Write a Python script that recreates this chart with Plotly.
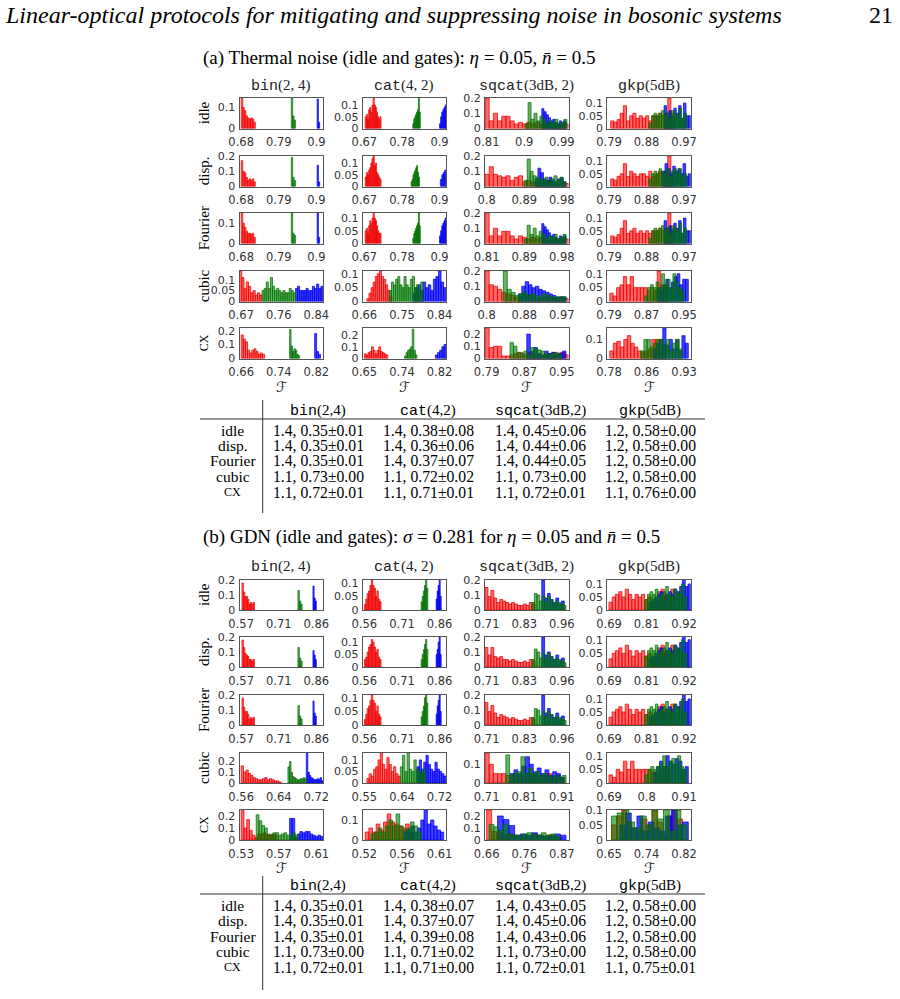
import plotly.graph_objects as go

FIG_W, FIG_H = 900, 999

COL_NAMES = ["bin", "cat", "sqcat", "gkp"]
COL_ARGS = ["(2, 4)", "(4, 2)", "(3dB, 2)", "(5dB)"]
TAB_ARGS = ["(2,4)", "(4,2)", "(3dB,2)", "(5dB)"]
ROW_NAMES = ["idle", "disp.", "Fourier", "cubic", "CX"]

# ---------------- x tick labels (fidelity: min, middle, max) ----------------
a_xlabels = [
    [["0.68", "0.79", "0.9"], ["0.67", "0.78", "0.9"], ["0.81", "0.9", "0.99"], ["0.79", "0.88", "0.97"]],
    [["0.68", "0.79", "0.9"], ["0.67", "0.78", "0.9"], ["0.8", "0.89", "0.98"], ["0.79", "0.88", "0.97"]],
    [["0.68", "0.79", "0.9"], ["0.67", "0.78", "0.9"], ["0.81", "0.89", "0.98"], ["0.79", "0.88", "0.97"]],
    [["0.67", "0.76", "0.84"], ["0.66", "0.75", "0.84"], ["0.8", "0.88", "0.97"], ["0.79", "0.87", "0.95"]],
    [["0.66", "0.74", "0.82"], ["0.65", "0.74", "0.82"], ["0.79", "0.87", "0.95"], ["0.78", "0.86", "0.93"]],
]
b_xlabels = [
    [["0.57", "0.71", "0.86"], ["0.56", "0.71", "0.86"], ["0.71", "0.83", "0.96"], ["0.69", "0.81", "0.92"]],
    [["0.57", "0.71", "0.86"], ["0.56", "0.71", "0.86"], ["0.71", "0.83", "0.96"], ["0.69", "0.81", "0.92"]],
    [["0.57", "0.71", "0.86"], ["0.56", "0.71", "0.86"], ["0.71", "0.83", "0.96"], ["0.69", "0.81", "0.92"]],
    [["0.56", "0.64", "0.72"], ["0.55", "0.64", "0.72"], ["0.71", "0.81", "0.91"], ["0.69", "0.8", "0.91"]],
    [["0.53", "0.57", "0.61"], ["0.52", "0.56", "0.61"], ["0.66", "0.76", "0.87"], ["0.65", "0.74", "0.82"]],
]

# ---------------- y axis maxima and ticks ----------------
a_ymax = [[0.145, 0.13, 0.2, 0.12], [0.2, 0.13, 0.2, 0.12], [0.15, 0.12, 0.2, 0.12],
          [0.14, 0.11, 0.2, 0.11], [0.22, 0.26, 0.25, 0.16]]
a_yticks = [[[0, 0.1], [0, 0.05, 0.1], [0, 0.1, 0.2], [0, 0.05, 0.1]],
            [[0, 0.1, 0.2], [0, 0.05, 0.1], [0, 0.1, 0.2], [0, 0.05, 0.1]],
            [[0, 0.1], [0, 0.05, 0.1], [0, 0.1, 0.2], [0, 0.05, 0.1]],
            [[0, 0.05, 0.1], [0, 0.05, 0.1], [0, 0.1, 0.2], [0, 0.05, 0.1]],
            [[0, 0.1, 0.2], [0, 0.1, 0.2], [0, 0.1, 0.2], [0, 0.1]]]
b_ymax = [[0.2, 0.11, 0.2, 0.115], [0.2, 0.12, 0.2, 0.11], [0.2, 0.11, 0.2, 0.115],
          [0.28, 0.13, 0.16, 0.11], [0.25, 0.15, 0.25, 0.1]]
b_yticks = [[[0, 0.1, 0.2], [0, 0.05, 0.1], [0, 0.1, 0.2], [0, 0.05, 0.1]],
            [[0, 0.1, 0.2], [0, 0.05, 0.1], [0, 0.1, 0.2], [0, 0.05, 0.1]],
            [[0, 0.1, 0.2], [0, 0.05, 0.1], [0, 0.1, 0.2], [0, 0.05, 0.1]],
            [[0, 0.1, 0.2], [0, 0.05, 0.1], [0, 0.1], [0, 0.05, 0.1]],
            [[0, 0.1, 0.2], [0, 0.1], [0, 0.1, 0.2], [0, 0.05, 0.1]]]

# ---------------- histograms: (bin-range start, end on the fidelity axis scaled 0..1, bar heights) ----
# thermal noise (a)
a_idle_r = [(0.02, 0.19, [0.145, 0.10, 0.085, 0.06, 0.05, 0.045, 0.05, 0.045, 0.03]),
            (0.03, 0.22, [0.05, 0.06, 0.04, 0.08, 0.09, 0.07, 0.10, 0.13, 0.10, 0.09, 0.07, 0.05, 0.04, 0.05]),
            (0.0, 1.0, [0.20, 0.05, 0.10, 0.05, 0.08, 0.08, 0.05, 0.03, 0.04, 0.03, 0.04, 0.03, 0.04, 0.03, 0.03, 0.04, 0.03, 0.03, 0.02, 0.03]),
            (0.04, 0.80, [0.03, 0.025, 0.035, 0.06, 0.09, 0.03, 0.05, 0.06, 0.04, 0.05, 0.04, 0.05, 0.03, 0.05, 0.05, 0.06, 0.05, 0.06, 0.12, 0.06])]
a_idle_g = [(0.62, 0.67, [0.145, 0.06, 0.04]),
            (0.60, 0.69, [0.02, 0.04, 0.05, 0.06, 0.07, 0.08, 0.13, 0.07]),
            (0.48, 0.98, [0.03, 0.17, 0.06, 0.10, 0.05, 0.08, 0.06, 0.03, 0.05, 0.04, 0.06, 0.03, 0.04, 0.06]),
            (0.50, 0.95, [0.02, 0.05, 0.06, 0.05, 0.06, 0.07, 0.05, 0.06, 0.04, 0.07, 0.06, 0.05, 0.08, 0.04, 0.06])]
a_idle_b = [(0.93, 0.96, [0.14, 0.03]),
            (0.92, 1.0, [0.02, 0.05, 0.07, 0.08, 0.09, 0.10]),
            (0.68, 0.97, [0.13, 0.11, 0.09, 0.07, 0.05, 0.06, 0.04, 0.03, 0.05, 0.04, 0.05]),
            (0.68, 1.0, [0.09, 0.06, 0.07, 0.05, 0.08, 0.06, 0.09, 0.04, 0.10, 0.05, 0.05])]

a_disp_r = [(0.02, 0.19, [0.17, 0.10, 0.09, 0.06, 0.04, 0.05, 0.04, 0.05, 0.03]),
            (0.03, 0.22, [0.04, 0.06, 0.05, 0.07, 0.08, 0.10, 0.12, 0.13, 0.09, 0.10, 0.06, 0.05, 0.04, 0.03]),
            (0.0, 1.0, [0.08, 0.13, 0.08, 0.07, 0.06, 0.07, 0.04, 0.06, 0.07, 0.03, 0.04, 0.03, 0.03, 0.02, 0.03, 0.04, 0.03, 0.02, 0.03, 0.02]),
            (0.04, 0.80, [0.03, 0.025, 0.04, 0.05, 0.09, 0.04, 0.06, 0.05, 0.04, 0.05, 0.05, 0.04, 0.06, 0.04, 0.05, 0.06, 0.05, 0.06, 0.12, 0.05])]
a_disp_g = [(0.62, 0.67, [0.19, 0.06, 0.04]),
            (0.58, 0.68, [0.02, 0.03, 0.05, 0.06, 0.07, 0.08, 0.09, 0.06, 0.04]),
            (0.47, 0.97, [0.04, 0.18, 0.10, 0.07, 0.06, 0.05, 0.04, 0.06, 0.03, 0.05, 0.07, 0.04, 0.06, 0.03]),
            (0.50, 0.95, [0.03, 0.05, 0.06, 0.05, 0.07, 0.06, 0.05, 0.07, 0.04, 0.06, 0.07, 0.05, 0.07, 0.04, 0.05])]
a_disp_b = [(0.93, 0.96, [0.14, 0.03]),
            (0.93, 1.0, [0.03, 0.05, 0.06, 0.07]),
            (0.60, 0.97, [0.05, 0.12, 0.09, 0.05, 0.04, 0.06, 0.04, 0.03, 0.05, 0.06, 0.03]),
            (0.66, 1.0, [0.06, 0.09, 0.07, 0.05, 0.08, 0.06, 0.07, 0.05, 0.09, 0.04, 0.05])]

a_four_r = [(0.02, 0.19, [0.15, 0.10, 0.08, 0.06, 0.05, 0.05, 0.045, 0.05, 0.03]),
            (0.03, 0.22, [0.05, 0.06, 0.04, 0.07, 0.09, 0.08, 0.10, 0.12, 0.10, 0.09, 0.07, 0.05, 0.04, 0.04]),
            (0.0, 1.0, [0.20, 0.05, 0.10, 0.05, 0.08, 0.08, 0.05, 0.03, 0.05, 0.04, 0.03, 0.04, 0.03, 0.04, 0.03, 0.03, 0.04, 0.03, 0.02, 0.03]),
            (0.04, 0.80, [0.03, 0.025, 0.035, 0.06, 0.09, 0.04, 0.05, 0.06, 0.04, 0.05, 0.04, 0.05, 0.04, 0.05, 0.05, 0.06, 0.05, 0.06, 0.12, 0.06])]
a_four_g = [(0.62, 0.67, [0.15, 0.05, 0.04]),
            (0.60, 0.69, [0.02, 0.04, 0.05, 0.06, 0.07, 0.08, 0.12, 0.07]),
            (0.47, 0.97, [0.03, 0.12, 0.06, 0.10, 0.05, 0.08, 0.06, 0.03, 0.05, 0.04, 0.06, 0.03, 0.04, 0.06]),
            (0.50, 0.95, [0.02, 0.05, 0.06, 0.05, 0.06, 0.07, 0.05, 0.06, 0.04, 0.07, 0.06, 0.05, 0.08, 0.04, 0.06])]
a_four_b = [(0.93, 0.96, [0.15, 0.03]),
            (0.92, 1.0, [0.03, 0.05, 0.07, 0.08, 0.09, 0.10]),
            (0.68, 0.97, [0.13, 0.11, 0.09, 0.07, 0.05, 0.06, 0.04, 0.03, 0.05, 0.04, 0.05]),
            (0.68, 1.0, [0.09, 0.06, 0.07, 0.05, 0.08, 0.06, 0.09, 0.04, 0.10, 0.05, 0.05])]

a_cub_r = [(0.0, 0.27, [0.14, 0.11, 0.06, 0.09, 0.07, 0.04, 0.05, 0.03, 0.04, 0.03]),
           (0.05, 0.35, [0.01, 0.03, 0.05, 0.07, 0.09, 0.10, 0.11, 0.09, 0.08, 0.06, 0.04, 0.02]),
           (0.0, 1.0, [0.20, 0.11, 0.10, 0.08, 0.06, 0.05, 0.04, 0.03, 0.03, 0.05, 0.04, 0.03, 0.02, 0.02, 0.03, 0.03, 0.02, 0.02, 0.03, 0.02]),
           (0.03, 0.72, [0.03, 0.02, 0.05, 0.06, 0.09, 0.06, 0.09, 0.05, 0.05, 0.05, 0.05, 0.04, 0.05, 0.04, 0.11, 0.06, 0.05])]
a_cub_g = [(0.27, 0.67, [0.05, 0.06, 0.09, 0.06, 0.11, 0.07, 0.05, 0.06, 0.05, 0.04, 0.05, 0.04, 0.04, 0.06, 0.05, 0.04]),
           (0.32, 0.72, [0.04, 0.07, 0.06, 0.08, 0.09, 0.06, 0.05, 0.09, 0.06, 0.05, 0.08, 0.09, 0.05, 0.06, 0.04, 0.07]),
           (0.22, 0.97, [0.20, 0.08, 0.06, 0.04, 0.05, 0.06, 0.04, 0.05, 0.04, 0.03, 0.05, 0.04, 0.03, 0.03, 0.03, 0.03]),
           (0.45, 0.92, [0.02, 0.05, 0.06, 0.05, 0.07, 0.05, 0.10, 0.06, 0.08, 0.05, 0.10, 0.07, 0.05, 0.04])]
a_cub_b = [(0.67, 1.0, [0.06, 0.07, 0.05, 0.05, 0.05, 0.06, 0.05, 0.05, 0.07, 0.06, 0.08, 0.06, 0.07]),
           (0.60, 1.0, [0.03, 0.05, 0.06, 0.04, 0.07, 0.05, 0.06, 0.04, 0.08, 0.09, 0.11, 0.07, 0.05]),
           (0.40, 0.97, [0.05, 0.10, 0.13, 0.11, 0.09, 0.10, 0.08, 0.07, 0.06, 0.05, 0.04, 0.03, 0.03, 0.03]),
           (0.60, 0.97, [0.05, 0.04, 0.06, 0.08, 0.05, 0.07, 0.09, 0.10, 0.06, 0.08, 0.08])]

a_cx_r = [(0.02, 0.30, [0.17, 0.14, 0.12, 0.06, 0.04, 0.06, 0.07, 0.05, 0.03, 0.04, 0.03]),
          (0.02, 0.30, [0.04, 0.03, 0.05, 0.06, 0.10, 0.07, 0.04, 0.07, 0.10, 0.06, 0.05, 0.04, 0.03]),
          (0.0, 1.0, [0.25, 0.09, 0.10, 0.10, 0.02, 0.02, 0.03, 0.04, 0.05, 0.03, 0.05, 0.04, 0.03, 0.02, 0.03, 0.04, 0.05, 0.04, 0.05, 0.03]),
          (0.03, 0.70, [0.04, 0.08, 0.09, 0.06, 0.10, 0.12, 0.08, 0.06, 0.04, 0.03, 0.04, 0.05, 0.10, 0.10, 0.04, 0.07])]
a_cx_g = [(0.60, 0.72, [0.21, 0.09, 0.05, 0.07, 0.06, 0.03, 0.02]),
          (0.50, 0.65, [0.02, 0.05, 0.07, 0.08, 0.10, 0.25, 0.07, 0.03]),
          (0.30, 0.92, [0.13, 0.10, 0.05, 0.04, 0.06, 0.03, 0.09, 0.08, 0.07, 0.06, 0.04, 0.03, 0.04, 0.05, 0.03]),
          (0.40, 0.90, [0.04, 0.10, 0.10, 0.06, 0.08, 0.10, 0.10, 0.07, 0.10, 0.04, 0.08, 0.10, 0.05])]
a_cx_b = [(0.90, 0.97, [0.18, 0.05, 0.03]),
          (0.87, 1.0, [0.03, 0.05, 0.07, 0.10, 0.12]),
          (0.50, 0.97, [0.20, 0.06, 0.09, 0.04, 0.03, 0.06, 0.04, 0.05, 0.03, 0.04, 0.06]),
          (0.55, 0.97, [0.05, 0.08, 0.10, 0.16, 0.07, 0.10, 0.05, 0.10, 0.04, 0.12, 0.08])]

# GDN (b)
b_idle_r = [(0.03, 0.18, [0.18, 0.12, 0.09, 0.09, 0.07, 0.04, 0.05, 0.04, 0.05]),
            (0.02, 0.22, [0.02, 0.04, 0.06, 0.07, 0.09, 0.11, 0.09, 0.08, 0.05, 0.07, 0.04, 0.03]),
            (0.0, 0.60, [0.15, 0.09, 0.13, 0.08, 0.05, 0.07, 0.06, 0.05, 0.04, 0.05, 0.04, 0.03, 0.03, 0.04, 0.03, 0.05, 0.04]),
            (0.02, 0.80, [0.03, 0.05, 0.06, 0.07, 0.05, 0.08, 0.06, 0.04, 0.06, 0.05, 0.06, 0.04, 0.05, 0.03, 0.04, 0.07, 0.08, 0.06, 0.05, 0.08])]
b_idle_g = [(0.70, 0.75, [0.13, 0.06, 0.04]),
            (0.70, 0.78, [0.03, 0.05, 0.07, 0.09, 0.11, 0.08]),
            (0.56, 0.97, [0.05, 0.11, 0.10, 0.06, 0.09, 0.05, 0.09, 0.07, 0.04, 0.06, 0.05, 0.04, 0.03]),
            (0.45, 0.95, [0.04, 0.06, 0.07, 0.06, 0.08, 0.05, 0.06, 0.07, 0.09, 0.06, 0.05, 0.08, 0.07, 0.06, 0.10, 0.05])]
b_idle_b = [(0.88, 0.92, [0.16, 0.08, 0.06]),
            (0.88, 0.94, [0.04, 0.07, 0.09, 0.11, 0.05]),
            (0.68, 0.95, [0.20, 0.08, 0.11, 0.07, 0.05, 0.08, 0.04, 0.06]),
            (0.50, 1.0, [0.03, 0.04, 0.05, 0.06, 0.07, 0.05, 0.06, 0.07, 0.06, 0.08, 0.07, 0.09, 0.12, 0.09, 0.10])]

b_disp_r = [(0.03, 0.18, [0.18, 0.13, 0.09, 0.08, 0.07, 0.05, 0.05, 0.04, 0.05]),
            (0.02, 0.22, [0.03, 0.04, 0.06, 0.08, 0.09, 0.11, 0.10, 0.08, 0.06, 0.07, 0.04, 0.03]),
            (0.0, 0.60, [0.13, 0.08, 0.13, 0.07, 0.06, 0.07, 0.05, 0.05, 0.04, 0.05, 0.04, 0.03, 0.03, 0.04, 0.03, 0.05, 0.04]),
            (0.02, 0.80, [0.03, 0.05, 0.06, 0.07, 0.05, 0.08, 0.06, 0.04, 0.06, 0.05, 0.06, 0.04, 0.05, 0.03, 0.04, 0.07, 0.08, 0.06, 0.05, 0.08])]
b_disp_g = [(0.70, 0.75, [0.13, 0.06, 0.04]),
            (0.70, 0.78, [0.03, 0.05, 0.07, 0.09, 0.11, 0.07]),
            (0.56, 0.97, [0.05, 0.12, 0.10, 0.06, 0.09, 0.05, 0.09, 0.07, 0.04, 0.06, 0.05, 0.04, 0.03]),
            (0.45, 0.95, [0.04, 0.06, 0.07, 0.06, 0.08, 0.05, 0.06, 0.07, 0.09, 0.06, 0.05, 0.08, 0.07, 0.06, 0.10, 0.05])]
b_disp_b = [(0.88, 0.92, [0.11, 0.08, 0.05]),
            (0.88, 0.94, [0.05, 0.07, 0.10, 0.12, 0.05]),
            (0.68, 0.95, [0.20, 0.08, 0.10, 0.07, 0.05, 0.08, 0.04, 0.06]),
            (0.50, 1.0, [0.03, 0.04, 0.05, 0.06, 0.07, 0.05, 0.06, 0.07, 0.06, 0.08, 0.07, 0.09, 0.12, 0.09, 0.10])]

b_four_r = [(0.03, 0.18, [0.18, 0.12, 0.09, 0.09, 0.07, 0.04, 0.05, 0.04, 0.05]),
            (0.02, 0.22, [0.02, 0.04, 0.06, 0.07, 0.09, 0.11, 0.09, 0.08, 0.05, 0.07, 0.04, 0.03]),
            (0.0, 0.60, [0.15, 0.09, 0.13, 0.08, 0.05, 0.07, 0.06, 0.05, 0.04, 0.05, 0.04, 0.03, 0.03, 0.04, 0.03, 0.05, 0.04]),
            (0.02, 0.80, [0.03, 0.05, 0.06, 0.07, 0.05, 0.08, 0.06, 0.04, 0.06, 0.05, 0.06, 0.04, 0.05, 0.03, 0.04, 0.07, 0.08, 0.06, 0.05, 0.08])]
b_four_g = [(0.70, 0.75, [0.13, 0.06, 0.04]),
            (0.70, 0.78, [0.03, 0.05, 0.07, 0.10, 0.11, 0.08]),
            (0.56, 0.97, [0.05, 0.11, 0.10, 0.06, 0.09, 0.05, 0.09, 0.07, 0.04, 0.06, 0.05, 0.04, 0.03]),
            (0.45, 0.95, [0.04, 0.06, 0.07, 0.06, 0.08, 0.05, 0.06, 0.07, 0.09, 0.06, 0.05, 0.08, 0.07, 0.06, 0.10, 0.05])]
b_four_b = [(0.88, 0.92, [0.16, 0.08, 0.06]),
            (0.88, 0.94, [0.04, 0.07, 0.09, 0.11, 0.05]),
            (0.68, 0.95, [0.20, 0.08, 0.11, 0.07, 0.05, 0.08, 0.04, 0.06]),
            (0.50, 1.0, [0.03, 0.04, 0.05, 0.06, 0.07, 0.05, 0.06, 0.07, 0.06, 0.08, 0.07, 0.09, 0.12, 0.09, 0.10])]

b_cub_r = [(0.02, 0.50, [0.16, 0.10, 0.12, 0.09, 0.07, 0.05, 0.04, 0.03, 0.03, 0.04, 0.05, 0.03, 0.04, 0.03, 0.02, 0.02, 0.01]),
           (0.05, 0.45, [0.02, 0.04, 0.03, 0.06, 0.07, 0.10, 0.13, 0.08, 0.06, 0.11, 0.08, 0.05, 0.07, 0.04, 0.03]),
           (0.0, 0.95, [0.16, 0.10, 0.05, 0.05, 0.05, 0.04, 0.03, 0.04, 0.04, 0.03, 0.05, 0.04, 0.04, 0.03, 0.04, 0.05, 0.03, 0.04, 0.03]),
           (0.02, 0.75, [0.03, 0.02, 0.05, 0.04, 0.08, 0.05, 0.08, 0.05, 0.05, 0.05, 0.05, 0.05, 0.04, 0.04, 0.05, 0.06, 0.05])]
b_cub_g = [(0.58, 0.80, [0.15, 0.20, 0.10, 0.06, 0.05, 0.04, 0.03, 0.03, 0.04, 0.04, 0.05, 0.04]),
           (0.45, 0.75, [0.07, 0.12, 0.05, 0.13, 0.06, 0.05, 0.10, 0.06, 0.05, 0.04, 0.06]),
           (0.25, 0.97, [0.15, 0.04, 0.05, 0.06, 0.14, 0.05, 0.08, 0.05, 0.06, 0.04, 0.05, 0.04, 0.03, 0.04, 0.03, 0.04]),
           (0.45, 0.95, [0.03, 0.05, 0.06, 0.05, 0.06, 0.07, 0.10, 0.06, 0.08, 0.09, 0.07, 0.10, 0.06, 0.05])]
b_cub_b = [(0.80, 1.0, [0.30, 0.10, 0.07, 0.05, 0.04, 0.03, 0.03, 0.04, 0.03, 0.05, 0.02]),
           (0.65, 1.0, [0.07, 0.10, 0.06, 0.09, 0.12, 0.08, 0.06, 0.05, 0.09, 0.06, 0.05, 0.04, 0.03]),
           (0.30, 0.95, [0.05, 0.07, 0.05, 0.09, 0.14, 0.10, 0.06, 0.08, 0.05, 0.07, 0.04, 0.06, 0.05, 0.03]),
           (0.55, 0.97, [0.04, 0.06, 0.08, 0.06, 0.10, 0.08, 0.07, 0.09, 0.08, 0.05, 0.06])]

b_cx_r = [(0.02, 0.45, [0.25, 0.10, 0.17, 0.08, 0.04, 0.02, 0.05, 0.05, 0.06, 0.04, 0.04, 0.05, 0.04]),
          (0.03, 0.60, [0.04, 0.06, 0.04, 0.08, 0.05, 0.09, 0.13, 0.09, 0.08, 0.07, 0.06, 0.08, 0.04]),
          (0.02, 0.92, [0.25, 0.07, 0.06, 0.04, 0.05, 0.04, 0.03, 0.04, 0.03, 0.05, 0.04, 0.03, 0.04, 0.03, 0.02]),
          (0.05, 0.90, [0.05, 0.08, 0.10, 0.06, 0.04, 0.03, 0.07, 0.05, 0.10, 0.06, 0.02, 0.08, 0.10, 0.07])]
b_cx_g = [(0.20, 0.70, [0.21, 0.16, 0.12, 0.10, 0.05, 0.04, 0.06, 0.06, 0.04, 0.05, 0.06, 0.04, 0.04, 0.06, 0.04]),
          (0.10, 0.70, [0.03, 0.04, 0.06, 0.04, 0.07, 0.10, 0.07, 0.13, 0.07, 0.05, 0.06, 0.09, 0.07, 0.04]),
          (0.05, 0.90, [0.13, 0.11, 0.08, 0.13, 0.05, 0.04, 0.04, 0.05, 0.06, 0.05, 0.04, 0.06, 0.04, 0.05, 0.03]),
          (0.05, 0.95, [0.08, 0.09, 0.10, 0.06, 0.04, 0.08, 0.05, 0.10, 0.07, 0.10, 0.03, 0.10, 0.05])]
b_cx_b = [(0.60, 1.0, [0.18, 0.18, 0.02, 0.05, 0.07, 0.06, 0.07, 0.07, 0.05, 0.04, 0.03, 0.04, 0.03]),
          (0.50, 0.97, [0.04, 0.05, 0.07, 0.04, 0.06, 0.10, 0.15, 0.08, 0.10, 0.07, 0.05, 0.04]),
          (0.15, 0.97, [0.20, 0.17, 0.12, 0.04, 0.05, 0.04, 0.06, 0.04, 0.03, 0.04, 0.05, 0.04]),
          (0.15, 0.97, [0.05, 0.09, 0.04, 0.08, 0.03, 0.06, 0.04, 0.03, 0.08, 0.10, 0.05, 0.06])]

A_RED = [a_idle_r, a_disp_r, a_four_r, a_cub_r, a_cx_r]
A_GREEN = [a_idle_g, a_disp_g, a_four_g, a_cub_g, a_cx_g]
A_BLUE = [a_idle_b, a_disp_b, a_four_b, a_cub_b, a_cx_b]
B_RED = [b_idle_r, b_disp_r, b_four_r, b_cub_r, b_cx_r]
B_GREEN = [b_idle_g, b_disp_g, b_four_g, b_cub_g, b_cx_g]
B_BLUE = [b_idle_b, b_disp_b, b_four_b, b_cub_b, b_cx_b]

# ---------------- tables ----------------
a_table = [["1.4, 0.35±0.01", "1.4, 0.38±0.08", "1.4, 0.45±0.06", "1.2, 0.58±0.00"],
           ["1.4, 0.35±0.01", "1.4, 0.36±0.06", "1.4, 0.44±0.06", "1.2, 0.58±0.00"],
           ["1.4, 0.35±0.01", "1.4, 0.37±0.07", "1.4, 0.44±0.05", "1.2, 0.58±0.00"],
           ["1.1, 0.73±0.00", "1.1, 0.72±0.02", "1.1, 0.73±0.00", "1.2, 0.58±0.00"],
           ["1.1, 0.72±0.01", "1.1, 0.71±0.01", "1.1, 0.72±0.01", "1.1, 0.76±0.00"]]
b_table = [["1.4, 0.35±0.01", "1.4, 0.38±0.07", "1.4, 0.43±0.05", "1.2, 0.58±0.00"],
           ["1.4, 0.35±0.01", "1.4, 0.37±0.07", "1.4, 0.45±0.06", "1.2, 0.58±0.00"],
           ["1.4, 0.35±0.01", "1.4, 0.39±0.08", "1.4, 0.43±0.06", "1.2, 0.58±0.00"],
           ["1.1, 0.73±0.00", "1.1, 0.71±0.02", "1.1, 0.73±0.00", "1.2, 0.58±0.00"],
           ["1.1, 0.72±0.01", "1.1, 0.71±0.00", "1.1, 0.72±0.01", "1.1, 0.75±0.01"]]

# ================= layout geometry (pixels) =================
COL_LEFT = [239.5, 362.7, 485.0, 607.3]
COL_W = 83.5
SECTIONS = [
    dict(tops=[98, 156, 213, 271, 328], h=30.5, title_y=86, header_y=58,
         header="(a) Thermal noise (idle and gates): <i>η</i> = 0.05, <i>n̄</i> = 0.5",
         xl=a_xlabels, ymax=a_ymax, yt=a_yticks, R=A_RED, G=A_GREEN, B=A_BLUE,
         table=a_table, t_head=411, t_rule=419, t_rows=[430, 445.5, 461, 476.5, 492], t_vline=(400, 513)),
    dict(tops=[580, 637, 695, 753, 810], h=30, title_y=567, header_y=537,
         header="(b) GDN (idle and gates): <i>σ</i> = 0.281 for <i>η</i> = 0.05 and <i>n̄</i> = 0.5",
         xl=b_xlabels, ymax=b_ymax, yt=b_yticks, R=B_RED, G=B_GREEN, B=B_BLUE,
         table=b_table, t_head=886, t_rule=894, t_rows=[905, 920.5, 936, 951.5, 967], t_vline=(876, 990)),
]
XT_FRAC = [0.02, 0.47, 0.92]
TAB_X = [318, 428, 540, 650]
TAB_ROWLAB_X = 232.7

SERIF = "Liberation Serif, Times New Roman, serif"
MONO = "Liberation Mono"
SANS = "DejaVu Sans"
TICK_COLOR = "#333333"
FILL = {"r": "rgba(255,0,0,0.6)", "g": "rgba(0,128,0,0.6)", "b": "rgba(0,0,255,0.75)"}
EDGE = {"r": "rgba(235,0,0,0.9)", "g": "rgba(0,110,0,0.9)", "b": "rgba(0,0,235,0.9)"}


def fx(p):
    return p / FIG_W


def fy(p):
    return 1 - p / FIG_H


fig = go.Figure()
layout = {}
annotations = []
shapes = []


def add_hist(k, spec, key):
    x0, x1, hs = spec
    n = len(hs)
    w = (x1 - x0) / n
    xs = [x0 + (i + 0.5) * w for i in range(n)]
    fig.add_trace(go.Bar(
        x=xs, y=hs, width=[w] * n,
        marker=dict(color=FILL[key], line=dict(color=EDGE[key], width=0.8)),
        xaxis="x" if k == 1 else f"x{k}", yaxis="y" if k == 1 else f"y{k}",
        hoverinfo="skip", showlegend=False))


k = 0
for s, sec in enumerate(SECTIONS):
    for r in range(5):
        top = sec["tops"][r]
        bot = top + sec["h"]
        for c in range(4):
            k += 1
            add_hist(k, sec["R"][r][c], "r")
            add_hist(k, sec["B"][r][c], "b")
            add_hist(k, sec["G"][r][c], "g")
            xa = "xaxis" if k == 1 else f"xaxis{k}"
            ya = "yaxis" if k == 1 else f"yaxis{k}"
            left = COL_LEFT[c]
            common = dict(showline=True, mirror=True, linecolor="#555555", linewidth=1,
                          showgrid=False, zeroline=False, ticks="", fixedrange=True, automargin=False)
            layout[xa] = dict(common, domain=[fx(left), fx(left + COL_W)], range=[0, 1],
                              anchor="y" if k == 1 else f"y{k}",
                              tickmode="array", tickvals=XT_FRAC, ticktext=sec["xl"][r][c],
                              ticklabelstandoff=3,
                              tickfont=dict(family=SANS, size=11.5, color=TICK_COLOR))
            yt = sec["yt"][r][c]
            layout[ya] = dict(common, domain=[fy(bot), fy(top)], range=[0, sec["ymax"][r][c]],
                              anchor="x" if k == 1 else f"x{k}",
                              tickmode="array", tickvals=yt, ticktext=[f"{v:g}" for v in yt],
                              ticklabelstandoff=1,
                              tickfont=dict(family=SANS, size=11, color=TICK_COLOR))
        # row label
        annotations.append(dict(x=fx(204), y=fy(top + sec["h"] / 2), xref="paper", yref="paper",
                                text=ROW_NAMES[r], textangle=-90, showarrow=False,
                                xanchor="center", yanchor="middle",
                                font=dict(family=SERIF, size=12 if ROW_NAMES[r] == "CX" else 15, color="black")))
    # column titles and F labels
    for c in range(4):
        cx = COL_LEFT[c] + COL_W / 2
        annotations.append(dict(x=fx(cx), y=fy(sec["title_y"]), xref="paper", yref="paper",
                                text=f'<span style="font-family:{MONO}">{COL_NAMES[c]}</span>{COL_ARGS[c]}',
                                showarrow=False, xanchor="center", yanchor="middle",
                                font=dict(family=SERIF, size=15, color="#222")))
        annotations.append(dict(x=fx(cx), y=fy(sec["tops"][4] + sec["h"] + 28), xref="paper", yref="paper",
                                text="ℱ", showarrow=False, xanchor="center", yanchor="middle",
                                font=dict(family="DejaVu Serif, DejaVu Sans", size=14, color="#222")))
    # section header
    annotations.append(dict(x=fx(201), y=fy(sec["header_y"]), xref="paper", yref="paper",
                            text=sec["header"], showarrow=False, xanchor="left", yanchor="middle",
                            font=dict(family=SERIF, size=19, color="black")))
    # table
    for c in range(4):
        annotations.append(dict(x=fx(TAB_X[c]), y=fy(sec["t_head"]), xref="paper", yref="paper",
                                text=f'<span style="font-family:{MONO}">{COL_NAMES[c]}</span>{TAB_ARGS[c]}',
                                showarrow=False, xanchor="center", yanchor="middle",
                                font=dict(family=SERIF, size=15, color="black")))
    for r in range(5):
        annotations.append(dict(x=fx(TAB_ROWLAB_X), y=fy(sec["t_rows"][r]), xref="paper", yref="paper",
                                text=ROW_NAMES[r], showarrow=False, xanchor="center", yanchor="middle",
                                font=dict(family=SERIF, size=12 if ROW_NAMES[r] == "CX" else 15.5, color="black")))
        for c in range(4):
            annotations.append(dict(x=fx(TAB_X[c]), y=fy(sec["t_rows"][r]), xref="paper", yref="paper",
                                    text=sec["table"][r][c], showarrow=False, xanchor="center", yanchor="middle",
                                    font=dict(family=SERIF, size=15.7, color="black")))
    shapes.append(dict(type="line", xref="paper", yref="paper", x0=fx(200), x1=fx(705),
                       y0=fy(sec["t_rule"]), y1=fy(sec["t_rule"]), line=dict(color="#333", width=1)))
    shapes.append(dict(type="line", xref="paper", yref="paper", x0=fx(262.7), x1=fx(262.7),
                       y0=fy(sec["t_vline"][0]), y1=fy(sec["t_vline"][1]), line=dict(color="#333", width=1)))

# page header
annotations.append(dict(x=fx(3), y=fy(15), xref="paper", yref="paper",
                        text="<i>Linear-optical protocols for mitigating and suppressing noise in bosonic systems</i>",
                        showarrow=False, xanchor="left", yanchor="middle",
                        font=dict(family=SERIF, size=24, color="black")))
annotations.append(dict(x=fx(895), y=fy(15), xref="paper", yref="paper", text="21",
                        showarrow=False, xanchor="right", yanchor="middle",
                        font=dict(family=SERIF, size=24, color="black")))

fig.update_layout(layout)
fig.update_layout(width=FIG_W, height=FIG_H, margin=dict(l=0, r=0, t=0, b=0, pad=0, autoexpand=False),
                  paper_bgcolor="white", plot_bgcolor="white", barmode="overlay",
                  showlegend=False, hovermode=False, annotations=annotations, shapes=shapes)

fig.write_html("out.html", config={"displayModeBar": False, "staticPlot": True})

# remove the browser's default page margin so the figure sits at the window origin
with open("out.html", "r", encoding="utf-8") as fh:
    html = fh.read()
html = html.replace("<head>", "<head><style>html,body{margin:0;padding:0;overflow:hidden;}</style>", 1)
with open("out.html", "w", encoding="utf-8") as fh:
    fh.write(html)
